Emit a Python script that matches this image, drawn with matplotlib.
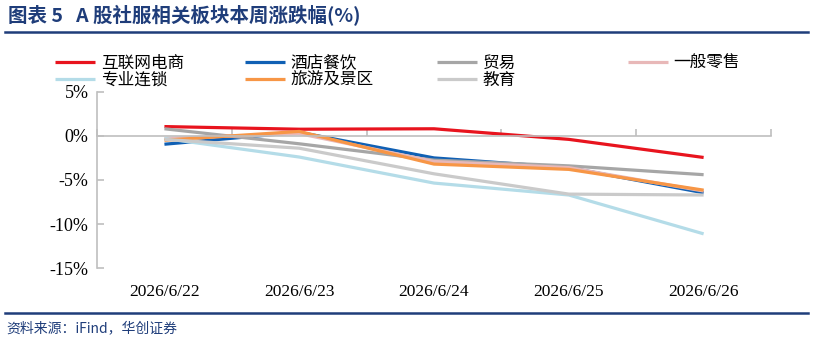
import matplotlib
matplotlib.use("Agg")
import matplotlib.pyplot as plt
from matplotlib.lines import Line2D
import matplotlib.transforms as mtransforms

plt.rcParams['font.family'] = ['Noto Sans CJK SC', 'DejaVu Sans']

# DATA
dates = ["2026/6/22", "2026/6/23", "2026/6/24", "2026/6/25", "2026/6/26"]
internet_ecom = [1.05, 0.75, 0.8, -0.4, -2.45]
hotel_food = [-0.95, 0.4, -2.5, -3.6, -6.45]
trade = [0.8, -0.9, -2.75, -3.4, -4.4]
general_retail = [-0.3, 0.25, -2.9, -3.6, -6.25]
chain_store = [-0.3, -2.4, -5.35, -6.7, -11.1]
tourism = [-0.5, 0.5, -3.2, -3.8, -6.15]
education = [-0.4, -1.4, -4.3, -6.6, -6.7]

series = [
    ("互联网电商", internet_ecom, "#E8141E"),
    ("酒店餐饮", hotel_food, "#1060B4"),
    ("贸易", trade, "#A6A6A6"),
    ("一般零售", general_retail, "#E8B8B8"),
    ("专业连锁", chain_store, "#B4DCE8"),
    ("旅游及景区", tourism, "#F79646"),
    ("教育", education, "#CACACA"),
]

NAVY = "#1F3D7A"
serif = "Liberation Serif"

fig = plt.figure(figsize=(8.14, 3.46), dpi=100)
ax = fig.add_axes([0.1192, 0.2246, 0.828, 0.5104])

x = list(range(len(dates)))
handles = {}
for name, vals, col in series:
    ln, = ax.plot(x, vals, color=col, lw=2.3, solid_capstyle='butt', label=name)
    handles[name] = ln

ax.set_xlim(-0.5, 4.5)
ax.set_ylim(-15, 5)
ax.set_yticks([5, 0, -5, -10, -15])
ax.set_yticklabels(["5%", "0%", "-5%", "-10%", "-15%"], family=serif, fontsize=13)
ax.set_xticks([-0.5, 0.5, 1.5, 2.5, 3.5, 4.5])
ax.set_xticklabels([])

for s in ["top", "right"]:
    ax.spines[s].set_visible(False)
ax.spines["bottom"].set_position(("data", 0))
ax.spines["bottom"].set_color("#BFBFBF")
ax.spines["left"].set_color("#BFBFBF")
ax.spines["bottom"].set_linewidth(1.2)
ax.spines["left"].set_linewidth(1.2)
ax.tick_params(axis="y", direction="in", length=5, color="#BFBFBF", width=1.2, pad=6)
ax.tick_params(axis="x", direction="in", length=5, color="#BFBFBF", width=1.2)

trans = mtransforms.blended_transform_factory(ax.transData, ax.transAxes)
for i, d in enumerate(dates):
    ax.text(i, -0.135, d, transform=trans, ha="center", va="center",
            family=serif, fontsize=12.5)

# legend, four columns placed by hand
cols = [["互联网电商", "专业连锁"], ["酒店餐饮", "旅游及景区"],
        ["贸易", "教育"], ["一般零售"]]
col_x = [53, 243, 435, 626]
for names, px in zip(cols, col_x):
    fig.legend([handles[n] for n in names], names, loc="upper left",
               bbox_to_anchor=(px / 814 - 0.012, 1 - 43 / 346), frameon=False,
               fontsize=12, handlelength=2.4, handletextpad=0.35,
               labelspacing=0.0, borderpad=0.2)

# title, rules and source
fig.text(0.01, 1 - 16 / 346, "图表 5   A 股社服相关板块本周涨跌幅(%)", color=NAVY,
         fontsize=14, fontweight="bold", va="center", ha="left")
fig.add_artist(Line2D([0.006, 0.993], [1 - 32 / 346] * 2, color=NAVY, lw=1.8))
fig.add_artist(Line2D([0.006, 0.993], [1 - 313 / 346] * 2, color=NAVY, lw=1.8))
fig.text(0.008, 1 - 328 / 346, "资料来源：iFind，华创证券", color=NAVY,
         fontsize=10, style="italic", va="center", ha="left")

plt.savefig("out.png", dpi=100)
